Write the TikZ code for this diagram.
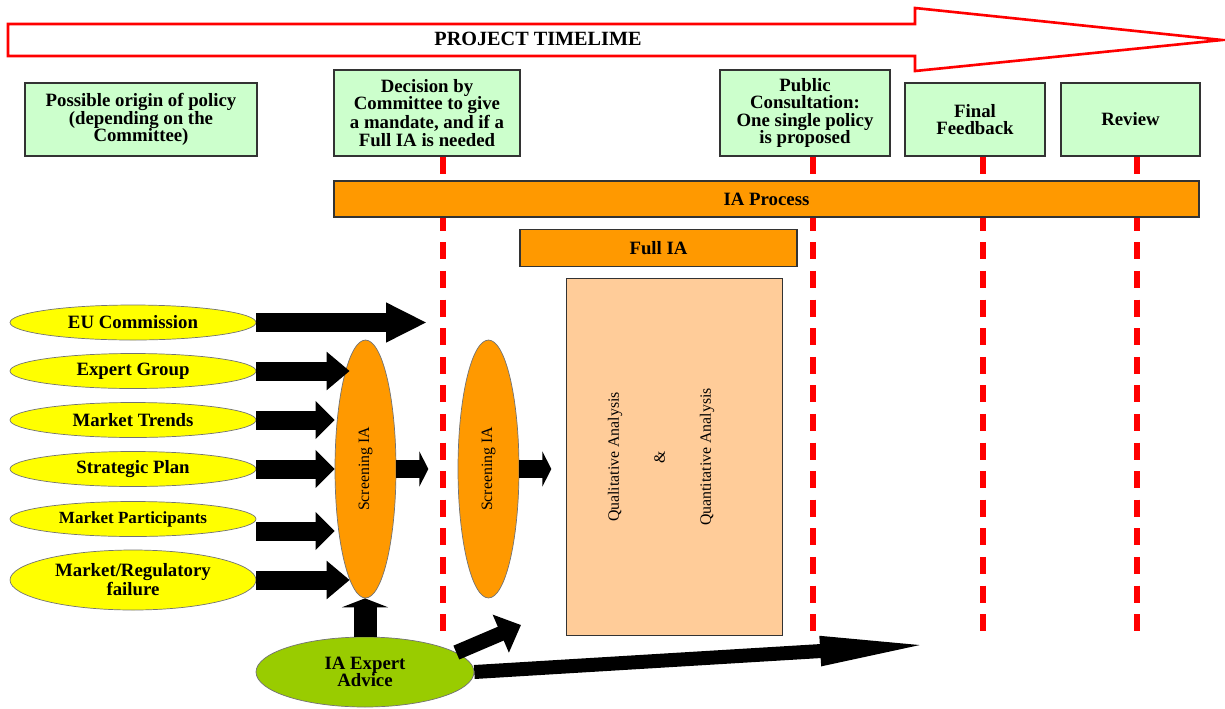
\documentclass[tikz,border=0pt]{standalone}
\usepackage{fontspec}
\setmainfont{Liberation Serif}
\usepackage{graphicx}
\usetikzlibrary{shapes.geometric,arrows.meta}

\definecolor{boxgreen}{HTML}{CCFFCC}
\definecolor{iaorange}{HTML}{FF9900}
\definecolor{peach}{HTML}{FFCC99}
\definecolor{srcyellow}{HTML}{FFFF00}
\definecolor{advgreen}{HTML}{99CC00}
\definecolor{edgegray}{HTML}{333333}
\newcommand{\lblfont}{\fontsize{10.7}{9.8}\selectfont\bfseries}
\newcommand{\thinfont}{\fontsize{9}{10}\selectfont}

\begin{document}
\begin{tikzpicture}[x=0.02cm, y=-0.02cm,
	stage/.style={draw=edgegray, fill=boxgreen, line width=0.7pt, align=center, font=\lblfont},
	bar/.style={draw=edgegray, fill=iaorange, line width=0.7pt, font=\lblfont},
	source/.style={ellipse, draw=black!55, fill=srcyellow, inner sep=0pt, minimum width=4.92cm, minimum height=0.7cm, align=center, font=\lblfont},
	screen/.style={ellipse, draw=black!55, fill=iaorange, inner sep=0pt, minimum width=1.22cm, minimum height=5.16cm, font=\thinfont},
	milestone/.style={red, line width=0.12cm, dash pattern=on 0.34cm off 0.232cm},
	push/.style n args={3}{line width=#1, -{Triangle[length=#2, width=#3]}}]
	\useasboundingbox (0,0) rectangle (1225,708);

	\draw[red, line width=1.5pt, fill=white] (8,24) -- (915,24) -- (915,8) -- (1222,40) -- (915,71) -- (915,56) -- (8,56) -- cycle;
	\node[font=\fontsize{11.5}{12}\selectfont\bfseries] (timeline) at (538,39) {PROJECT TIMELIME};

	\node[stage, minimum width=4.64cm, minimum height=1.46cm] (origin) at (141,119.5) {Possible origin of policy\\(depending on the\\Committee)};
	\node[stage, minimum width=3.72cm, minimum height=1.72cm] (decision) at (427,113) {Decision by\\Committee to give\\a mandate, and if a\\Full IA is needed};
	\node[stage, minimum width=3.4cm, minimum height=1.72cm] (public) at (805,113) {Public\\Consultation:\\One single policy\\is proposed};
	\node[stage, minimum width=2.8cm, minimum height=1.46cm] (final) at (975,119.5) {Final\\Feedback};
	\node[stage, minimum width=2.78cm, minimum height=1.46cm] (review) at (1130.5,119.5) {Review};

	\draw[milestone] ([xshift=0.32cm]decision.south) -- ++(0,475);
	\draw[milestone] ([xshift=0.16cm]public.south) -- ++(0,475);
	\draw[milestone] ([xshift=0.16cm]final.south) -- ++(0,475);
	\draw[milestone] ([xshift=0.13cm]review.south) -- ++(0,475);

	\node[bar, minimum width=17.3cm, minimum height=0.72cm] (process) at (766.5,199) {IA Process};
	\node[bar, minimum width=5.54cm, minimum height=0.74cm] (fullia) at (658.5,248) {Full IA};
	\node[draw=edgegray, fill=peach, line width=0.7pt, minimum width=4.32cm, minimum height=7.14cm] (analysis) at (674.5,457) {};
	\node[rotate=90, align=center, font=\fontsize{9}{26.2}\selectfont] (methods) at (661,457) {Qualitative Analysis\\\&\\Quantitative Analysis};

	\node[source] (eu) at (133,322.5) {EU Commission};
	\node[source] (expertgrp) at (133,371) {Expert Group};
	\node[source] (trends) at (133,420) {Market Trends};
	\node[source] (plan) at (133,469) {Strategic Plan};
	\node[source, font=\fontsize{9.7}{9.7}\selectfont\bfseries] (participants) at (133,519) {Market Participants};
	\node[source, minimum height=1.2cm] (failure) at (133,580) {Market/Regulatory\\failure};

	\node[screen] (scr1) at (365.5,469) {\rotatebox{90}{Screening IA}};
	\node[screen] (scr2) at (488.5,469) {\rotatebox{90}{Screening IA}};
	\node[ellipse, draw=black!55, fill=advgreen, inner sep=0pt, minimum width=4.36cm, minimum height=1.4cm, align=center, font=\lblfont] (expert) at (365,672) {IA Expert\\Advice};

	\coordinate (euend) at (427,322.5);
	\coordinate (diagend) at (521,625);
	\coordinate (longend) at (937,644);

	\draw[push={0.38cm}{0.82cm}{0.74cm}] (eu.east) -- (euend);
	\draw[push={0.38cm}{0.46cm}{0.74cm}] (expertgrp.east) -- ([xshift=0.3cm]scr1.west |- expertgrp.east);
	\draw[push={0.38cm}{0.38cm}{0.74cm}] (trends.east) -- (scr1.west |- trends.east);
	\draw[push={0.38cm}{0.38cm}{0.74cm}] (plan.east) -- (scr1.west |- plan.east);
	\draw[push={0.38cm}{0.38cm}{0.74cm}] ([yshift=-0.24cm]participants.east) -- ([yshift=-0.24cm]scr1.west |- participants.east);
	\draw[push={0.38cm}{0.46cm}{0.74cm}] (failure.east) -- ([xshift=0.3cm]scr1.west |- failure.east);
	\draw[push={0.36cm}{0.18cm}{0.7cm}] (scr1.east) -- ([xshift=0.64cm]scr1.east);
	\draw[push={0.36cm}{0.18cm}{0.7cm}] (scr2.east) -- ([xshift=0.64cm]scr2.east);
	\draw[push={0.46cm}{0.18cm}{0.92cm}] (expert.north) -- (expert.north |- scr1.south);
	\draw[push={0.3cm}{0.44cm}{0.8cm}] (expert.12) -- (diagend);
	\draw[push={0.28cm}{2.34cm}{0.52cm}] (expert.east) -- (longend);
\end{tikzpicture}
\end{document}
